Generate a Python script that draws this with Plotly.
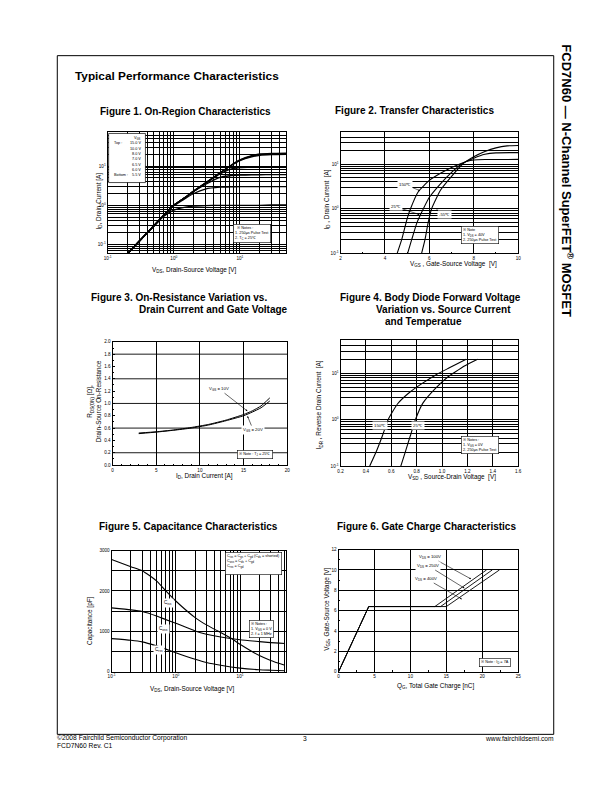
import plotly.graph_objects as go

FONT = "Liberation Sans"
W, H = 612, 792

# ---------------- data ----------------
# Figure 1: On-Region Characteristics (I_D vs V_DS, log-log)
f1_vds = [0.2, 0.3, 0.5, 0.7, 1, 1.5, 2, 3, 5, 7, 10, 15, 20, 30, 50]
f1_id_15v = [0.058, 0.12, 0.30, 0.55, 1.0, 1.6, 2.3, 3.7, 6.8, 10.0, 14.5, 18.5, 20.5, 21.3, 21.6]
f1_id_10v = [0.058, 0.12, 0.30, 0.55, 1.0, 1.6, 2.3, 3.7, 6.8, 10.0, 14.3, 18.0, 19.8, 20.6, 20.9]
f1_id_8v = [0.058, 0.12, 0.30, 0.55, 1.0, 1.6, 2.3, 3.7, 6.7, 9.8, 13.8, 17.3, 19.0, 19.8, 20.1]
f1_id_7v = [0.058, 0.12, 0.30, 0.55, 1.0, 1.6, 2.3, 3.6, 6.3, 8.3, 9.2, 9.5, 9.6, 9.7, 9.8]
f1_id_65v = [0.058, 0.12, 0.30, 0.55, 1.0, 1.6, 2.25, 3.4, 5.2, 5.7, 5.9, 6.0, 6.05, 6.1, 6.1]
f1_id_6v = [0.058, 0.12, 0.30, 0.55, 0.98, 1.5, 2.0, 2.6, 2.9, 2.95, 3.0, 3.0, 3.0, 3.0, 3.0]
f1_id_55v = [0.058, 0.12, 0.29, 0.52, 0.75, 0.9, 0.95, 0.98, 1.0, 1.0, 1.0, 1.0, 1.0, 1.02, 1.02]
f1_vgs_labels = ["15.0 V", "10.0 V", "8.0 V", "7.0 V", "6.5 V", "6.0 V", "5.5 V"]

# Figure 2: Transfer Characteristics (I_D vs V_GS)
f2_vgs_150 = [4.55, 4.75, 5.0, 5.15, 5.5, 6.0, 6.5, 7.0, 7.4, 7.7, 8.0, 8.5, 10]
f2_id_150 = [0.1, 0.2, 0.6, 1.0, 2.4, 4.3, 6.2, 8.4, 10.2, 11.5, 12.3, 12.6, 12.7]
f2_vgs_25 = [5.02, 5.2, 5.45, 5.73, 6.0, 6.5, 7.0, 7.45, 8.0, 8.5, 9.0, 10]
f2_id_25 = [0.1, 0.2, 0.5, 1.0, 1.8, 3.6, 6.5, 10.0, 13.5, 16.5, 17.8, 18.0]
f2_vgs_m55 = [5.65, 5.8, 5.95, 6.1, 6.5, 7.0, 7.5, 8.0, 8.5, 9.0, 9.5, 10]
f2_id_m55 = [0.1, 0.2, 0.5, 1.0, 2.6, 5.3, 10.0, 14.5, 19.0, 23.0, 25.5, 26.0]

# Figure 3: On-Resistance vs Drain Current
f3_id = [3, 5, 7, 9, 11, 13, 15, 16, 17, 18]
f3_rds_10v = [0.52, 0.54, 0.57, 0.61, 0.66, 0.73, 0.82, 0.88, 0.96, 1.09]
f3_rds_20v = [0.51, 0.535, 0.565, 0.60, 0.65, 0.72, 0.80, 0.86, 0.93, 1.04]
f3_grid_y = [0.2, 0.6, 1.0, 1.4, 1.8]

# Figure 4: Body Diode Forward Voltage
f4_vsd_150 = [0.43, 0.48, 0.53, 0.575, 0.65, 0.75, 0.85, 0.95, 1.05, 1.12, 1.19]
f4_idr_150 = [0.1, 0.2, 0.45, 1.0, 2.2, 4.0, 6.2, 9.2, 12.8, 16.0, 20.0]
f4_vsd_25 = [0.675, 0.71, 0.75, 0.79, 0.85, 0.95, 1.05, 1.1, 1.18, 1.28]
f4_idr_25 = [0.1, 0.2, 0.45, 1.0, 2.3, 4.8, 8.5, 10.5, 14.5, 20.0]

# Figure 5: Capacitance Characteristics
f5_vds_iss = [0.1, 0.2, 0.3, 0.5, 0.7, 1, 2, 3, 4.6, 7.5, 10, 20, 30, 50]
f5_ciss = [2780, 2600, 2500, 2250, 2000, 1750, 1340, 1160, 1000, 815, 680, 400, 280, 160]
f5_vds = [0.1, 0.2, 0.3, 0.5, 0.7, 1, 2, 3, 5, 10, 20, 30, 50]
f5_coss = [1580, 1530, 1490, 1380, 1290, 1200, 1010, 930, 860, 790, 745, 720, 700]
f5_crss = [820, 780, 740, 640, 560, 470, 310, 230, 160, 90, 50, 38, 25]

# Figure 6: Gate Charge Characteristics
f6_qg_100 = [0, 4.2, 13.4, 20.6]
f6_qg_250 = [0, 4.2, 14.2, 21.4]
f6_qg_400 = [0, 4.2, 15.0, 22.4]
f6_vgs = [0, 6.4, 6.4, 10.0]

decade_text = ["10<sup>-1</sup>", "10<sup>0</sup>", "10<sup>1</sup>"]
decade_vals = [0.1, 1, 10]


def px(x):
    return x / W


def py(y):
    return 1 - y / H


def log_minors(lo, hi):
    return [m * 10.0 ** e for e in range(lo, hi + 1) for m in range(2, 10)]


fig = go.Figure()


def add_curve(n, x, y, width=1.1, spline=True):
    sfx = "" if n == 1 else str(n)
    line = dict(color="black", width=width)
    if spline:
        line.update(shape="spline", smoothing=0.5)
    fig.add_trace(go.Scatter(x=x, y=y, mode="lines", line=line,
                             xaxis="x" + sfx, yaxis="y" + sfx, hoverinfo="skip"))


for ys in [f1_id_15v, f1_id_10v, f1_id_8v, f1_id_7v, f1_id_65v, f1_id_6v, f1_id_55v]:
    add_curve(1, f1_vds, ys, width=1.3)
add_curve(2, f2_vgs_150, f2_id_150)
add_curve(2, f2_vgs_25, f2_id_25)
add_curve(2, f2_vgs_m55, f2_id_m55)
add_curve(3, f3_id, f3_rds_10v, width=1.0)
add_curve(3, f3_id, f3_rds_20v, width=1.0)
add_curve(4, f4_vsd_150, f4_idr_150)
add_curve(4, f4_vsd_25, f4_idr_25)
add_curve(5, f5_vds_iss, f5_ciss)
add_curve(5, f5_vds, f5_coss)
add_curve(5, f5_vds, f5_crss)
add_curve(6, f6_qg_100, f6_vgs, width=0.9, spline=False)
add_curve(6, f6_qg_250, f6_vgs, width=0.9, spline=False)
add_curve(6, f6_qg_400, f6_vgs, width=0.9, spline=False)

# plot boxes in page pixels: left, right, top, bottom
boxes = {1: (105, 286, 131, 253), 2: (341, 521, 131, 253), 3: (110, 287, 342, 466),
         4: (341, 521, 340, 467), 5: (109, 286, 552, 674), 6: (339, 521, 551, 674)}


def base_axis(**kw):
    d = dict(showline=True, linecolor="black", linewidth=1, mirror=True,
             ticks="inside", ticklen=2.5, tickwidth=0.6, tickcolor="black",
             tickfont=dict(family=FONT, size=4.6, color="black"),
             showgrid=True, gridcolor="black", gridwidth=0.9, zeroline=False)
    d.update(kw)
    return d


def minor_log(lo, hi):
    return dict(tickmode="array", tickvals=log_minors(lo, hi), showgrid=True,
                gridcolor="black", gridwidth=0.5, ticks="")


axes = {
    1: (base_axis(type="log", range=[-1, 1.70], tickvals=decade_vals, ticktext=decade_text,
                  minor=minor_log(-1, 1)),
        base_axis(type="log", range=[-1.23, 1.87], tickvals=decade_vals, ticktext=decade_text,
                  minor=minor_log(-2, 1))),
    2: (base_axis(range=[2, 10], tickvals=[2, 4, 6, 8, 10],
                  minor=dict(dtick=1, ticks="inside", ticklen=1.5, showgrid=False)),
        base_axis(type="log", range=[-1, 1.713], tickvals=decade_vals, ticktext=decade_text,
                  minor=minor_log(-1, 1))),
    3: (base_axis(range=[0, 20], dtick=5, minor=dict(dtick=1, ticks="inside", ticklen=1.5)),
        base_axis(range=[0, 2.0], dtick=0.2, tickformat=".1f", showgrid=False,
                  minor=dict(dtick=0.1, ticks="inside", ticklen=1.5))),
    4: (base_axis(range=[0.2, 1.6], dtick=0.2, tickformat=".1f"),
        base_axis(type="log", range=[-1, 1.72], tickvals=decade_vals, ticktext=decade_text,
                  minor=minor_log(-1, 1))),
    5: (base_axis(type="log", range=[-1, 1.72], tickvals=decade_vals, ticktext=decade_text,
                  minor=minor_log(-1, 1)),
        base_axis(range=[0, 3000], dtick=1000,
                  minor=dict(dtick=500, showgrid=True, gridcolor="black", gridwidth=0.7, ticks=""))),
    6: (base_axis(range=[0, 25], dtick=5, minor=dict(dtick=2.5, ticks="inside", ticklen=1.5)),
        base_axis(range=[0, 12], dtick=2, minor=dict(dtick=1, ticks="inside", ticklen=1.5))),
}

layout_axes = {}
for n, (xa, ya) in axes.items():
    l, r, t, b = boxes[n]
    sfx = "" if n == 1 else str(n)
    xa.update(domain=[px(l), px(r)], anchor="y" + sfx)
    ya.update(domain=[py(b), py(t)], anchor="x" + sfx)
    layout_axes["xaxis" + sfx] = xa
    layout_axes["yaxis" + sfx] = ya

ann = []


def text(x, y, s, size=4.5, xanchor="center", yanchor="middle", angle=0, **kw):
    ann.append(dict(x=px(x), y=py(y), xref="paper", yref="paper", text=s, showarrow=False,
                    xanchor=xanchor, yanchor=yanchor, textangle=angle,
                    font=dict(family=FONT, size=size, color="black"), **kw))


def note(x, y, s, size=3.8):
    text(x, y, s, size=size, xanchor="left", yanchor="top", align="left",
         bgcolor="white", bordercolor="black", borderwidth=0.6, borderpad=1.5)


def pointer(tx, ty, cx, cy, s, size=4.3):
    # text centred at (cx, cy), leader line ending at (tx, ty), all page pixels
    ann.append(dict(x=px(tx), y=py(ty), xref="paper", yref="paper", text=s,
                    showarrow=True, arrowhead=2, arrowsize=0.6, arrowwidth=0.6,
                    arrowcolor="black", ax=cx - tx, ay=cy - ty,
                    font=dict(family=FONT, size=size, color="black"), bgcolor="white"))


TITLE = 10.0
AXT = 6.4

# page texts
text(70, 74.5, "<b>Typical Performance Characteristics</b>", size=11.8, xanchor="left")
text(571, 180, "<b>FCD7N60 — N-Channel SuperFET<sup>®</sup> MOSFET</b>", size=13, angle=90)
text(52, 741, "©2008 Fairchild Semiconductor Corporation", size=6.7, xanchor="left")
text(52, 748, "FCD7N60 Rev. C1", size=6.7, xanchor="left")
text(305, 741, "3", size=6.7)
text(559, 741, "www.fairchildsemi.com", size=6.7, xanchor="right")

# figure titles
text(184, 110, "<b>Figure 1. On-Region Characteristics</b>", size=TITLE)
text(416, 109, "<b>Figure 2. Transfer Characteristics</b>", size=TITLE)
text(86, 297.5, "<b>Figure 3. On-Resistance Variation vs.</b>", size=TITLE, xanchor="left")
text(135, 309.5, "<b>Drain Current and Gate Voltage</b>", size=TITLE, xanchor="left")
text(338, 297.5, "<b>Figure 4. Body Diode Forward Voltage</b>", size=TITLE, xanchor="left")
text(375, 309.5, "<b>Variation vs. Source Current</b>", size=TITLE, xanchor="left")
text(384, 321.7, "<b>and Temperatue</b>", size=TITLE, xanchor="left")
text(187, 528.3, "<b>Figure 5. Capacitance Characteristics</b>", size=TITLE)
text(428, 528, "<b>Figure 6. Gate Charge Characteristics</b>", size=TITLE)

# axis titles
text(193, 270, "V<sub>DS</sub>, Drain-Source Voltage [V]", size=AXT)
text(96, 200, "I<sub>D</sub>, Drain Current [A]", size=AXT, angle=-90)
text(455, 264, "V<sub>GS</sub> , Gate-Source Voltage  [V]", size=AXT)
text(327, 199, "I<sub>D</sub> , Drain Current  [A]", size=AXT, angle=-90)
text(203, 477, "I<sub>D</sub>, Drain Current [A]", size=AXT)
text(91, 402, "R<sub>DS(ON)</sub> [Ω],<br>Drain-Source On-Resistance", size=AXT, angle=-90)
text(454, 477.7, "V<sub>SD</sub> , Source-Drain Voltage  [V]", size=AXT)
text(320, 405, "I<sub>DR</sub> , Reverse Drain Current  [A]", size=AXT, angle=-90)
text(191, 691.7, "V<sub>DS</sub>, Drain-Source Voltage [V]", size=AXT)
text(87, 622, "Capacitance [pF]", size=AXT, angle=-90)
text(437, 688, "Q<sub>G</sub>, Total Gate Charge [nC]", size=AXT)
text(327, 611, "V<sub>GS</sub>, Gate-Source Voltage [V]", size=AXT, angle=-90)

# figure 1 legend box
shapes = [dict(type="rect", xref="paper", yref="paper", x0=px(106), x1=px(143.3),
               y0=py(181.7), y1=py(132.3), line=dict(color="black", width=0.7),
               fillcolor="white", layer="above")]
text(141, 137.3, "V<sub>GS</sub>", size=3.8, xanchor="right")
for i, lab in enumerate(f1_vgs_labels):
    text(141, 142.3 + i * 5.33, lab, size=3.8, xanchor="right")
text(109, 142.3, "Top :", size=3.8, xanchor="left")
text(109, 174.3, "Bottom :", size=3.8, xanchor="left")

# notes
note(232, 223, "  ※ Notes :<br>1. 250μs Pulse Test<br>2. T<sub>C</sub> = 25℃")
note(463, 225, "※ Note<br>1. V<sub>DS</sub> = 40V<br>2. 250μs Pulse Test")
note(236, 451, "※ Note : T<sub>J</sub> = 25℃")
note(463, 437, "※ Notes :<br>1. V<sub>GS</sub> = 0V<br>2. 250μs Pulse Test")
note(223.5, 553, "C<sub>iss</sub> = C<sub>gs</sub> + C<sub>gd</sub> (C<sub>ds</sub> = shorted)"
                 "<br>C<sub>oss</sub> = C<sub>ds</sub> + C<sub>gd</sub><br>C<sub>rss</sub> = C<sub>gd</sub><br> ")
note(248, 622, "※ Notes :<br>1. V<sub>GS</sub> = 0 V<br>2. f = 1 MHz")
note(481, 660, "※ Note : I<sub>D</sub> = 7A")

# curve labels
pointer(421.7, 190, 406.7, 183.7, "150℃")
pointer(421, 214, 397.3, 206, "25℃")
pointer(438, 209, 446.7, 214, "-55℃")
pointer(246.7, 411.7, 218, 389.3, "V<sub>GS</sub> = 10V")
pointer(246.7, 416.7, 252.5, 430.7, "V<sub>GS</sub> = 20V")
text(381, 425.7, "150℃", size=4.3, bgcolor="white")
text(419, 425.7, "25℃", size=4.3, bgcolor="white")
text(166, 605, "C<sub>iss</sub>", size=4.6, bgcolor="white")
text(161.7, 631, "C<sub>oss</sub>", size=4.6, bgcolor="white")
text(156.7, 652.3, "C<sub>rss</sub>", size=4.6, bgcolor="white")
pointer(473.3, 580.7, 432.5, 558.3, "V<sub>DS</sub> = 100V")
pointer(466.7, 590, 430, 567.3, "V<sub>DS</sub> = 250V")
pointer(464, 601, 428, 580.3, "V<sub>DS</sub> = 400V")

# figure 3 grid lines sit between the labelled ticks
for v in f3_grid_y:
    shapes.append(dict(type="line", xref="x3 domain", yref="y3", x0=0, x1=1, y0=v, y1=v,
                       line=dict(color="black", width=0.9), layer="below"))

# page border
shapes.append(dict(type="rect", xref="paper", yref="paper", x0=px(54), x1=px(557),
                   y0=py(737), y1=py(54), line=dict(color="black", width=1)))

fig.update_layout(width=W, height=H, margin=dict(l=0, r=0, t=0, b=0),
                  paper_bgcolor="white", plot_bgcolor="white", showlegend=False,
                  font=dict(family=FONT, color="black"),
                  annotations=ann, shapes=shapes, **layout_axes)

# page body has an 8px default margin; drop it so the figure sits at the window origin
fig.write_html("out.html", config={"displayModeBar": False},
               post_script="document.body.style.margin='0';")
